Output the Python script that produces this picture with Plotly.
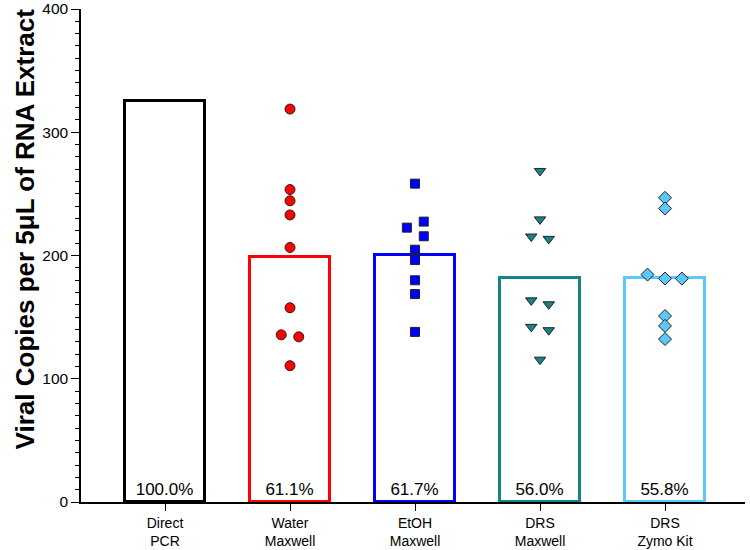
import plotly.graph_objects as go

categories = ["Direct<br>PCR", "Water<br>Maxwell", "EtOH<br>Maxwell", "DRS<br>Maxwell", "DRS<br>Zymo Kit"]
bar_values = [325.0, 198.6, 200.5, 182.0, 181.4]
pct_labels = ["100.0%", "61.1%", "61.7%", "56.0%", "55.8%"]

water_vals = [318.8, 253.5, 244.4, 232.9, 206.5, 157.6, 135.6, 134.0, 110.6]
etoh_vals = [258.3, 227.5, 222.6, 215.6, 204.7, 196.3, 179.9, 168.7, 138.0]
drs_vals = [268.6, 229.3, 215.4, 213.5, 163.6, 160.4, 142.1, 139.4, 115.5]
zymo_vals = [246.8, 238.2, 184.5, 181.3, 181.3, 150.9, 142.9, 132.2]

# horizontal spread of overlapping points (category units)
water_jit = [0, 0, 0, 0, 0, 0, -0.07, 0.07, 0]
etoh_jit = [0, 0.07, -0.065, 0.07, 0, 0, 0, 0, 0]
drs_jit = [0, 0, -0.07, 0.07, -0.07, 0.07, -0.07, 0.07, 0]
zymo_jit = [0, 0, -0.14, 0, 0.135, 0, 0, 0]

bar_colors = ["#000000", "#FF0000", "#0000FF", "#178585", "#5CC8FA"]
FONT = "Liberation Sans, Arial, Helvetica, sans-serif"

fig = go.Figure()
xs = list(range(len(categories)))
fig.add_trace(go.Bar(
    x=xs, y=bar_values, width=0.64,
    marker=dict(color="white", line=dict(color=bar_colors, width=3)),
    text=pct_labels, textposition="inside", insidetextanchor="start",
    textangle=0,
    textfont=dict(family=FONT, size=17, color="black"),
    hoverinfo="skip", showlegend=False,
))

groups = [
    (1, water_vals, water_jit, "circle", "#FF0000", 10),
    (2, etoh_vals, etoh_jit, "square", "#0000FF", 9),
    (3, drs_vals, drs_jit, "triangle-down", "#178585", 10),
    (4, zymo_vals, zymo_jit, "diamond", "#5CC8FA", 10),
]
for idx, vals, jit, sym, col, sz in groups:
    fig.add_trace(go.Scatter(
        x=[idx + j for j in jit], y=vals, mode="markers",
        marker=dict(symbol=sym, color=col, size=sz,
                    line=dict(color="#222222", width=1)),
        showlegend=False, cliponaxis=False,
    ))

fig.update_layout(
    width=750, height=550,
    margin=dict(l=81, r=5, t=9, b=48),
    plot_bgcolor="white", paper_bgcolor="white",
    font=dict(family=FONT, color="black", size=14),
    bargap=0,
    annotations=[dict(
        text="<b>Viral Copies per 5μL of RNA Extract</b>",
        textangle=-90, xref="paper", yref="paper",
        x=-0.0843, y=0.553, xanchor="center", yanchor="middle",
        showarrow=False, font=dict(family=FONT, size=26, color="black"),
    )],
)
fig.update_xaxes(
    range=[-0.672, 4.64], tickvals=xs, ticktext=categories,
    showline=True, linecolor="black", linewidth=1.5,
    ticks="outside", ticklen=7, tickwidth=1.2, tickcolor="black",
    showgrid=False, zeroline=False, automargin=False,
    tickfont=dict(family=FONT, size=14),
)
fig.update_yaxes(
    range=[0, 400], tickvals=[0, 100, 200, 300, 400],
    showline=True, linecolor="black", linewidth=1.5,
    ticks="outside", ticklen=8, tickwidth=1.2, tickcolor="black",
    minor=dict(dtick=10, ticks="outside", ticklen=4, tickwidth=1, tickcolor="black"),
    showgrid=False, zeroline=False, automargin=False,
    ticklabeloverflow="allow",
    tickfont=dict(family=FONT, size=15.5),
)

fig.write_html("out.html", config={"displayModeBar": False},
               post_script="document.body.style.margin='0px';")
